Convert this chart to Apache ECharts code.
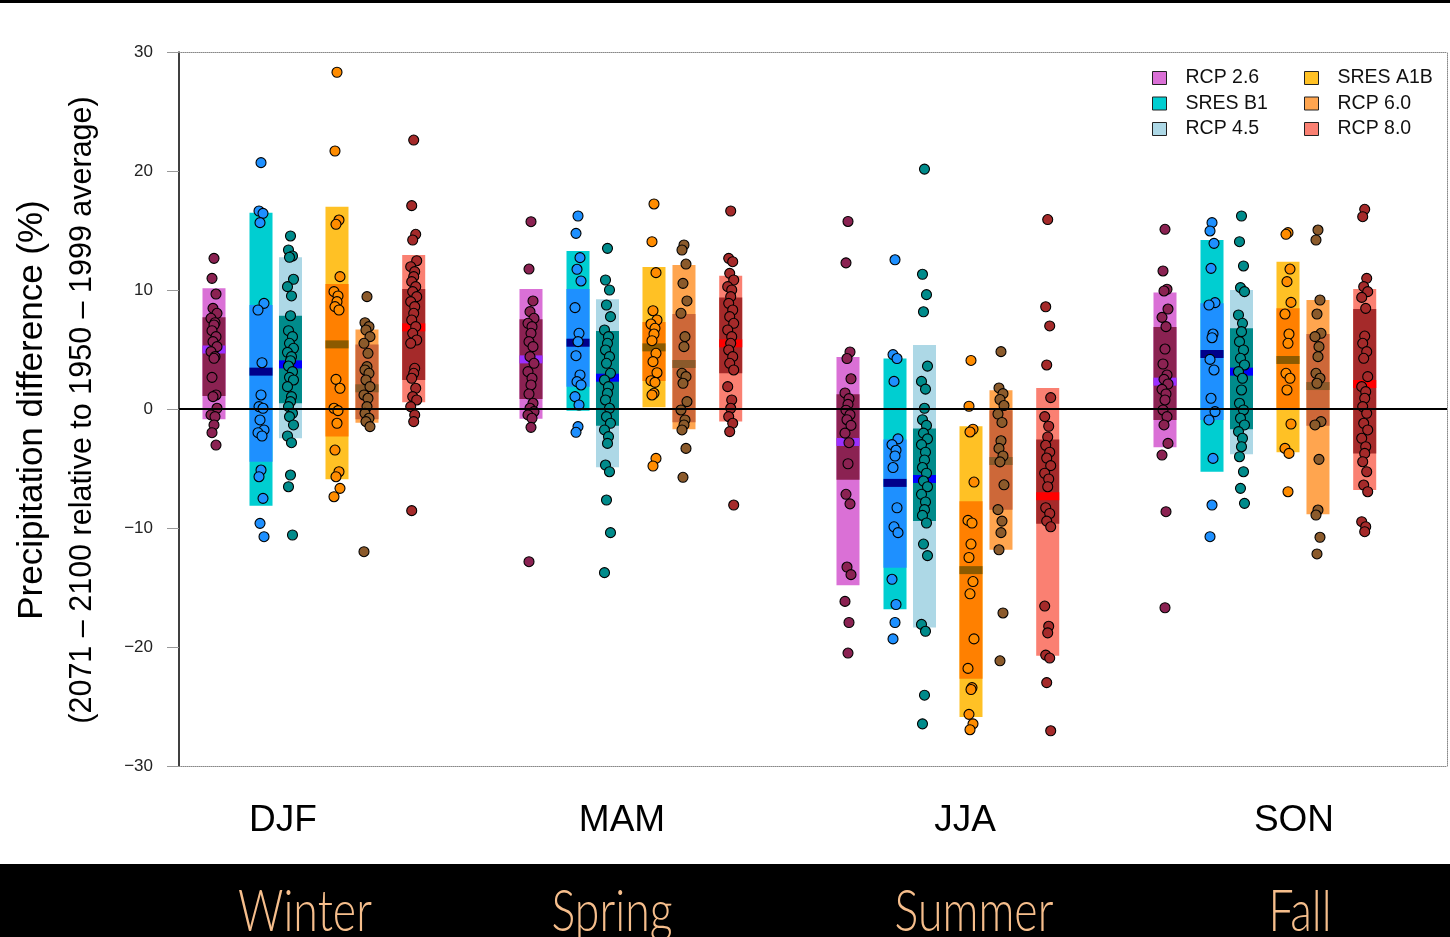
<!DOCTYPE html>
<html><head><meta charset="utf-8">
<script src="https://cdn.jsdelivr.net/npm/echarts@6/dist/echarts.min.js"></script>
<style>html,body{margin:0;padding:0;background:#fff;}#chart{width:1450px;height:937px;}</style>
</head><body><div id="chart"></div>
<script>
// ---------------- DATA ----------------
const seasons = ['DJF', 'MAM', 'JJA', 'SON'];
const seasonNames = ['Winter', 'Spring', 'Summer', 'Fall'];
const scenarios = ['RCP 2.6', 'SRES B1', 'RCP 4.5', 'SRES A1B', 'RCP 6.0', 'RCP 8.0'];
const yTicks = [-30, -20, -10, 0, 10, 20, 30];

// [scenario][season]  (DJF, MAM, JJA, SON)
const outerHi = [
  [10.14, 10.08, 4.37, 9.8],
  [16.5, 13.28, 4.24, 14.2],
  [12.75, 9.22, 5.37, 10.0],
  [17.0, 11.93, -1.45, 12.38],
  [6.69, 12.1, 1.58, 9.16],
  [12.94, 11.2, 1.77, 10.08]
];
const outerLo = [
  [-0.87, -0.81, -14.82, -3.22],
  [-8.12, -0.14, -16.82, -5.27],
  [-2.46, -4.9, -18.36, -3.81],
  [-5.91, 0.14, -25.88, -3.64],
  [-1.15, -1.71, -11.83, -8.85],
  [0.56, -1.06, -20.74, -6.81]
];
const innerHi = [
  [7.7, 7.54, 1.25, 6.89],
  [8.74, 10.08, -2.57, 8.88],
  [7.84, 6.55, -1.64, 6.78],
  [10.5, 7.31, -7.75, 8.46],
  [5.41, 7.98, -0.1, 6.3],
  [10.08, 9.36, -2.57, 8.4]
];
const innerLo = [
  [1.09, 0.84, -5.95, -0.92],
  [-4.43, 1.88, -13.34, -0.92],
  [0.48, -1.4, -9.42, -1.71],
  [-2.32, 2.35, -22.67, 0.06],
  [-0.87, -1.12, -8.46, -1.4],
  [2.44, 3.0, -9.65, -3.73]
];
const medians = [
  [5.0, 4.17, -2.77, 2.3],
  [3.14, 5.57, -6.21, 4.62],
  [3.75, 2.63, -5.88, 3.14],
  [5.43, 5.18, -13.54, 4.12],
  [1.74, 3.78, -4.37, 1.93],
  [6.86, 5.52, -7.33, 2.1]
];

// individual model values, per season
const dotsRCP26 = [
  [12.66,10.98,9.66,8.46,8.04,7.62,7.25,7.06,6.58,6.08,5.66,5.24,4.82,4.40,4.26,2.66,1.18,1.04,0.06,-0.5,-0.64,-1.34,-1.99,-3.03],
  [15.74,11.76,9.08,8.18,7.62,7.2,6.92,6.36,5.66,5.24,4.4,3.84,3.14,2.58,2.02,1.26,0.48,0.06,-0.22,-0.5,-0.78,-1.54,-12.83],
  [15.76,12.28,4.79,4.24,2.54,1.35,0.87,0.39,-0.1,-0.48,-0.9,-1.38,-2.03,-2.83,-4.6,-7.17,-7.97,-13.28,-13.92,-16.17,-17.94,-20.51],
  [15.1,11.6,10.06,9.92,8.4,7.7,6.92,5.04,3.78,2.86,2.49,2.1,1.65,1.26,0.76,-0.08,-0.64,-1.34,-2.89,-3.87,-8.63,-16.7]
];
const dotsB1 = [
  [20.7,16.64,16.44,15.66,8.88,8.32,3.89,1.18,0.2,0.06,-0.92,-1.76,-1.99,-2.27,-5.13,-5.69,-7.51,-9.61,-10.73],
  [16.22,14.76,12.72,11.74,10.76,8.52,6.36,5.66,4.48,2.86,2.3,2.02,1.04,0.34,-1.48,-1.96],
  [12.54,4.57,4.24,2.32,-2.51,-2.99,-3.47,-3.95,-4.92,-8.3,-9.9,-10.39,-14.31,-16.43,-17.94,-19.32],
  [15.66,14.96,13.92,11.82,8.94,8.74,6.3,5.99,4.17,3.28,0.9,-0.22,-0.92,-4.15,-8.07,-10.73]
];
const dotsRCP45 = [
  [14.54,13.36,12.86,12.75,10.9,10.28,9.5,7.84,6.58,6.08,5.52,5.1,4.76,4.4,4.06,3.61,3.14,2.66,2.44,1.88,1.04,0.62,0.2,-0.36,-0.64,-1.34,-2.27,-2.83,-5.55,-6.53,-10.59],
  [13.5,10.84,10.0,8.74,7.76,6.64,6.08,5.52,4.96,4.4,3.84,3.0,2.44,1.88,1.32,0.76,0.06,-0.64,-1.2,-1.76,-2.32,-2.89,-4.71,-5.27,-7.65,-10.39,-13.75],
  [20.16,11.32,9.61,8.17,3.6,2.32,1.67,0.06,-0.9,-1.38,-2.03,-2.51,-2.99,-3.63,-4.28,-4.92,-5.4,-6.05,-6.53,-7.17,-7.81,-8.46,-8.94,-9.58,-11.35,-12.32,-18.1,-18.68,-24.05,-26.46],
  [16.22,14.06,12.02,10.2,9.86,7.9,7.2,6.5,5.66,4.96,4.26,3.7,3.14,2.58,1.6,0.48,-0.08,-0.78,-1.34,-1.9,-2.46,-3.17,-4.01,-5.27,-6.67,-7.93]
];
const dotsA1B = [
  [28.3,21.68,15.88,15.52,11.12,9.86,9.5,9.02,8.6,8.32,2.49,1.74,0.06,-0.14,-1.2,-3.45,-5.27,-5.69,-6.67,-7.37],
  [17.23,14.06,11.46,8.26,7.48,7.14,6.78,6.3,5.74,4.68,3.98,3.05,2.38,2.24,1.32,1.18,-4.15,-4.79],
  [4.08,0.23,-1.7,-1.93,-6.14,-9.36,-9.58,-11.35,-12.48,-14.5,-15.53,-19.32,-21.8,-23.41,-23.57,-25.66,-26.46,-26.95],
  [14.82,14.68,11.76,10.7,8.96,7.98,6.3,5.52,3.0,2.58,1.6,-1.26,-3.31,-3.73,-6.95]
];
const dotsRCP60 = [
  [9.44,7.25,6.92,6.64,6.08,5.52,4.68,3.56,3.28,3.0,2.44,1.88,1.18,0.9,0.2,-0.36,-0.78,-1.06,-1.48,-11.99],
  [13.78,13.36,12.18,10.56,9.08,8.04,6.08,5.24,3.0,2.72,2.16,0.62,-0.08,-0.92,-1.34,-1.76,-3.31,-5.74],
  [4.82,1.77,1.29,0.8,0.29,-0.42,-1.13,-2.67,-3.31,-3.95,-4.44,-6.37,-8.46,-9.42,-10.39,-11.83,-17.14,-21.16],
  [15.04,14.2,9.16,7.98,6.36,6.08,5.24,4.4,3.0,2.58,2.16,-1.06,-1.34,-4.23,-8.49,-8.91,-10.78,-12.18]
];
const dotsRCP85 = [
  [22.6,17.09,14.68,14.2,12.46,11.96,11.54,11.12,10.7,10.28,9.86,9.44,9.02,8.6,8.04,7.48,6.92,6.36,5.8,5.52,3.42,3.0,2.58,1.74,1.04,0.76,0.2,-0.5,-1.06,-8.54],
  [16.64,12.66,12.38,11.4,10.84,10.28,10.0,9.44,8.88,8.32,7.76,7.2,6.64,6.08,5.52,4.96,4.4,3.84,3.28,1.88,0.76,0.06,-0.64,-1.2,-1.9,-8.07],
  [15.92,8.59,6.98,3.7,0.96,-0.64,-1.45,-2.35,-3.05,-3.63,-4.12,-4.76,-5.4,-5.88,-6.53,-8.3,-8.78,-9.42,-9.9,-16.56,-18.26,-18.81,-20.68,-20.93,-22.99,-27.04],
  [16.78,16.16,10.98,10.28,9.86,9.38,8.46,6.13,5.52,4.82,4.26,2.72,1.88,1.46,0.9,0.2,-0.36,-1.2,-1.76,-2.46,-3.17,-3.73,-4.43,-5.27,-6.39,-6.95,-9.47,-9.89,-10.31]
];
const allDots = [dotsRCP26, dotsB1, dotsRCP45, dotsA1B, dotsRCP60, dotsRCP85];

// ---------------- STYLE / LAYOUT ----------------
const outerColors = ['#DA70D6', '#00CED1', '#ADD8E6', '#FFC125', '#FFA54F', '#FA8072'];
const innerColors = ['#8B2252', '#1E90FF', '#008B8B', '#FF8000', '#CD6839', '#A52A2A'];
const medianColors = ['#9B30FF', '#00008B', '#0000FF', '#8B5A00', '#8B5A2B', '#FF0000'];
const dotColors = ['#8B2252', '#1E90FF', '#008B8B', '#FF8C00', '#8B5A2B', '#A52A2A'];

const X_MAX = 4;                 // one unit per season
const SEASON_START = 0.1104;
const SCEN_OFFSETS = [0, 0.1483, 0.2413, 0.388, 0.4826, 0.63];
const BAR_W = 0.0726;
const MED_H_PX = 8;
const JITTER_PX = [0, -2, 2, -1, 3, -3, 1];
const xPos = (s, k) => k + SEASON_START + SCEN_OFFSETS[s];

const FONT = '"Liberation Sans", Arial, Helvetica, sans-serif';

const series = [];
scenarios.forEach((name, s) => {
  series.push({
    name: name,
    type: 'custom',
    z: 2,
    itemStyle: { color: outerColors[s] },
    encode: { x: 0, y: [1, 2] },
    data: seasons.map((_, k) => [xPos(s, k), outerLo[s][k], outerHi[s][k], innerLo[s][k], innerHi[s][k], medians[s][k]]),
    renderItem: function (params, api) {
      const x = api.value(0);
      const w = api.size([BAR_W, 0])[0];
      const pHi = api.coord([x, api.value(2)]);
      const pLo = api.coord([x, api.value(1)]);
      const qHi = api.coord([x, api.value(4)]);
      const qLo = api.coord([x, api.value(3)]);
      const pm = api.coord([x, api.value(5)]);
      const left = pHi[0] - w / 2;
      return {
        type: 'group',
        children: [
          { type: 'rect', shape: { x: left, y: pHi[1], width: w, height: pLo[1] - pHi[1] }, style: { fill: outerColors[s] } },
          { type: 'rect', shape: { x: left, y: qHi[1], width: w, height: qLo[1] - qHi[1] }, style: { fill: innerColors[s] } },
          { type: 'rect', shape: { x: left, y: pm[1] - MED_H_PX / 2, width: w, height: MED_H_PX }, style: { fill: medianColors[s] } }
        ]
      };
    }
  });
});
scenarios.forEach((name, s) => {
  const data = [];
  allDots[s].forEach((vals, k) => {
    vals.forEach((v, i) => {
      data.push({ value: [xPos(s, k), v], symbolOffset: [JITTER_PX[i % JITTER_PX.length], 0] });
    });
  });
  series.push({
    name: name,
    type: 'scatter',
    z: 3,
    symbol: 'circle',
    symbolSize: 10,
    itemStyle: { color: dotColors[s], borderColor: '#000', borderWidth: 1.1, opacity: 1 },
    data: data
  });
});
// zero line
series.push({
  type: 'scatter', z: 10, data: [], silent: true,
  markLine: {
    silent: true, symbol: 'none', label: { show: false },
    lineStyle: { color: '#000', width: 2, type: 'solid' },
    data: [{ yAxis: 0 }]
  }
});

const graphic = [
  { type: 'rect', left: 0, top: 0, shape: { width: 1450, height: 3 }, style: { fill: '#000' } },
  { type: 'rect', left: 0, top: 864, shape: { width: 1450, height: 73 }, style: { fill: '#000' } },
  { type: 'text', x: 32, y: 410, rotation: Math.PI / 2,
    style: { text: 'Precipitation difference (%)', font: '35px ' + FONT, fill: '#000', align: 'center', verticalAlign: 'middle' } },
  { type: 'text', x: 83, y: 410, rotation: Math.PI / 2,
    style: { text: '(2071 \u2013 2100 relative to 1950 \u2013 1999 average)', font: '30.5px ' + FONT, fill: '#000', align: 'center', verticalAlign: 'middle' } }
];
const seasonCodeX = [283, 622, 965, 1294];
const seasonNameX = [305, 612, 974, 1300];
seasons.forEach((t, k) => {
  graphic.push({ type: 'text', x: seasonCodeX[k], y: 821,
    style: { text: t, font: '37px ' + FONT, fill: '#000', align: 'center', verticalAlign: 'middle' } });
  graphic.push({ type: 'text', x: seasonNameX[k], y: 912, scaleX: 0.77,
    style: { text: seasonNames[k], font: '300 58px Lato, "Open Sans", sans-serif', fill: '#F6BE8C', align: 'center', verticalAlign: 'middle' } });
});

const legendCommon = {
  orient: 'vertical', icon: 'rect', itemWidth: 14, itemHeight: 13, itemGap: 5.5,
  itemStyle: { borderColor: '#222', borderWidth: 1 },
  textStyle: { fontFamily: FONT, fontSize: 19.5, color: '#111', padding: [0, 0, 0, 14] },
  selectedMode: false
};

const option = {
  animation: false,
  backgroundColor: '#fff',
  grid: { left: 179, right: 3, top: 52, bottom: 171, containLabel: false, outerBoundsMode: 'none' },
  legend: [
    Object.assign({ left: 1147, top: 63, data: scenarios.slice(0, 3) }, legendCommon),
    Object.assign({ left: 1299, top: 63, data: scenarios.slice(3, 6) }, legendCommon)
  ],
  xAxis: [
    { type: 'value', min: 0, max: X_MAX, position: 'bottom',
      axisLine: { show: true, onZero: false, lineStyle: { color: '#888', width: 1, type: 'dotted' } },
      axisTick: { show: false }, axisLabel: { show: false }, splitLine: { show: false } },
    { type: 'value', min: 0, max: X_MAX, position: 'top',
      axisLine: { show: true, onZero: false, lineStyle: { color: '#888', width: 1, type: 'dotted' } },
      axisTick: { show: false }, axisLabel: { show: false }, splitLine: { show: false } }
  ],
  yAxis: [
    { type: 'value', min: yTicks[0], max: yTicks[yTicks.length - 1], interval: 10, position: 'left',
      axisLine: { show: true, onZero: false, lineStyle: { color: '#000', width: 1.5 } },
      axisTick: { show: true, length: 12, lineStyle: { color: '#999', width: 1 } },
      axisLabel: { show: true, margin: 26, fontFamily: FONT, fontSize: 17, color: '#222',
        formatter: v => String(v).replace('-', '\u2212') },
      splitLine: { show: false } },
    { type: 'value', min: yTicks[0], max: yTicks[yTicks.length - 1], interval: 10, position: 'right',
      axisLine: { show: true, onZero: false, lineStyle: { color: '#888', width: 1, type: 'dotted' } },
      axisTick: { show: false }, axisLabel: { show: false }, splitLine: { show: false } }
  ],
  series: series,
  graphic: graphic
};

const chart = echarts.init(document.getElementById('chart'), null, { renderer: 'canvas' });
chart.setOption(option);
</script></body></html>
